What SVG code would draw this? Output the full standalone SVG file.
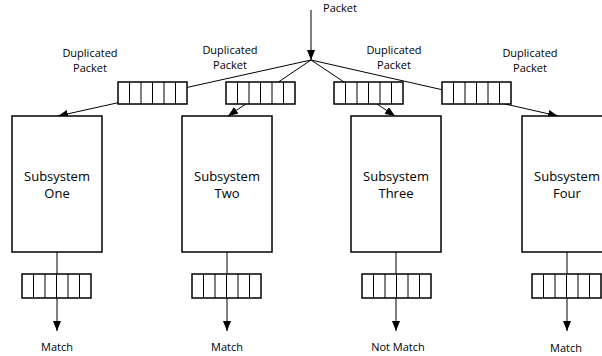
<svg xmlns="http://www.w3.org/2000/svg" xmlns:xlink="http://www.w3.org/1999/xlink" width="602" height="356" viewBox="0 0 602 356">
  <style>
    text { font-family: "Open Sans", "Liberation Sans", sans-serif; fill: #000; text-anchor: middle; }
    .lbl { font-size: 11px; }
    .sys { font-size: 13px; }
    .box { fill: #fff; stroke: #000; stroke-width: 1.5; }
    .qbox { fill: #fff; stroke: #000; stroke-width: 1.5; }
    .qcell { stroke: #000; stroke-width: 1; }
    .wire { stroke: #000; stroke-width: 1; fill: none; marker-end: url(#arrow); }
  </style>
  <defs>
    <marker id="arrow" markerUnits="userSpaceOnUse" markerWidth="10" markerHeight="8" refX="10" refY="4" orient="auto">
      <path d="M0,0 L10,4 L0,8 z" fill="#000"/>
    </marker>
    <g id="queue-top">
      <rect class="qbox" x="0" y="0" width="69" height="22"/>
      <path class="qcell" d="M11.5,0 V22 M23,0 V22 M34.5,0 V22 M46,0 V22 M57.5,0 V22"/>
    </g>
    <g id="queue-bottom">
      <rect class="qbox" x="0" y="0" width="69" height="24"/>
      <path class="qcell" d="M11.5,0 V24 M23,0 V24 M34.5,0 V24 M46,0 V24 M57.5,0 V24"/>
    </g>
  </defs>

  <!-- connectors -->
  <g id="connectors">
    <line class="wire" x1="311" y1="10" x2="311" y2="60"/>
    <line class="wire" x1="311" y1="60" x2="58" y2="116"/>
    <line class="wire" x1="311" y1="60" x2="228" y2="116"/>
    <line class="wire" x1="311" y1="60" x2="395" y2="116"/>
    <line class="wire" x1="311" y1="60" x2="558" y2="116"/>
    <line class="wire" x1="57" y1="252" x2="57" y2="331"/>
    <line class="wire" x1="227" y1="252" x2="227" y2="331"/>
    <line class="wire" x1="396" y1="252" x2="396" y2="331"/>
    <line class="wire" x1="567" y1="252" x2="567" y2="331"/>
  </g>

  <!-- input label -->
  <g id="input">
    <text class="lbl" x="340" y="12">Packet</text>
  </g>

  <!-- duplicated packet queues -->
  <g id="dup-one">
    <use xlink:href="#queue-top" x="118" y="82"/>
    <text class="lbl" x="90" y="57">Duplicated</text>
    <text class="lbl" x="90" y="72">Packet</text>
  </g>
  <g id="dup-two">
    <use xlink:href="#queue-top" x="226" y="82"/>
    <text class="lbl" x="230" y="54">Duplicated</text>
    <text class="lbl" x="230" y="69">Packet</text>
  </g>
  <g id="dup-three">
    <use xlink:href="#queue-top" x="334" y="82"/>
    <text class="lbl" x="394" y="54">Duplicated</text>
    <text class="lbl" x="394" y="69">Packet</text>
  </g>
  <g id="dup-four">
    <use xlink:href="#queue-top" x="442" y="82"/>
    <text class="lbl" x="530" y="57">Duplicated</text>
    <text class="lbl" x="530" y="72">Packet</text>
  </g>

  <!-- subsystems -->
  <g id="subsystem-one">
    <rect class="box" x="12" y="116" width="90" height="136"/>
    <text class="sys" x="57" y="181">Subsystem</text>
    <text class="sys" x="57" y="198">One</text>
  </g>
  <g id="subsystem-two">
    <rect class="box" x="182" y="116" width="90" height="136"/>
    <text class="sys" x="227" y="181">Subsystem</text>
    <text class="sys" x="227" y="198">Two</text>
  </g>
  <g id="subsystem-three">
    <rect class="box" x="351" y="116" width="90" height="136"/>
    <text class="sys" x="396" y="181">Subsystem</text>
    <text class="sys" x="396" y="198">Three</text>
  </g>
  <g id="subsystem-four">
    <rect class="box" x="522" y="116" width="90" height="136"/>
    <text class="sys" x="567" y="181">Subsystem</text>
    <text class="sys" x="567" y="198">Four</text>
  </g>

  <!-- output queues and results -->
  <g id="out-one">
    <use xlink:href="#queue-bottom" x="22" y="274"/>
    <text class="lbl" x="57" y="351">Match</text>
  </g>
  <g id="out-two">
    <use xlink:href="#queue-bottom" x="192" y="274"/>
    <text class="lbl" x="227" y="351">Match</text>
  </g>
  <g id="out-three">
    <use xlink:href="#queue-bottom" x="362" y="274"/>
    <text class="lbl" x="398" y="351">Not Match</text>
  </g>
  <g id="out-four">
    <use xlink:href="#queue-bottom" x="532" y="274"/>
    <text class="lbl" x="566" y="352">Match</text>
  </g>
</svg>
